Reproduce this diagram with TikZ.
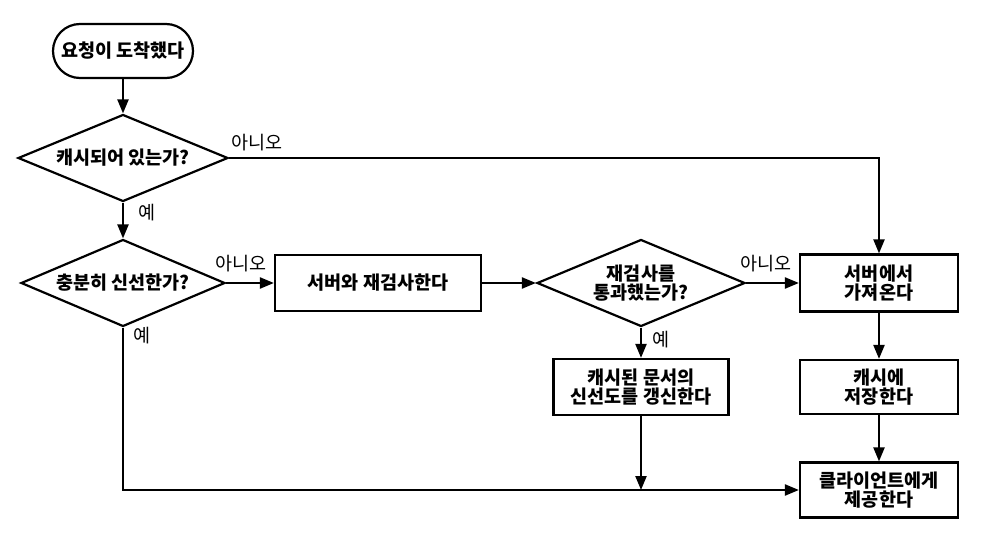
\documentclass[tikz,border=0pt]{standalone}
\usepackage{fontspec}
\setmainfont{Noto Sans CJK KR}
\usetikzlibrary{arrows.meta,shapes.geometric}

\begin{document}
\begin{tikzpicture}[x=1pt, y=-1pt, line width=2.2pt,
  every node/.style={font=\bfseries\fontsize{18.5}{19.5}\selectfont, align=center, inner sep=0pt},
  arr/.style={-{Triangle[length=14pt, width=11pt]}},
  boxnode/.style={draw, rectangle, minimum height=56pt},
  decision/.style={draw, diamond, shape aspect=2.4, minimum width=208pt, minimum height=87pt},
  lbl/.style={font=\fontsize{18.5}{19.5}\selectfont}]

\useasboundingbox (0,0) rectangle (996,548);

% Start
\node[draw, rounded corners=27pt, minimum width=140pt, minimum height=54pt] (start) at (123,51) {요청이 도착했다};

% Decisions
\node[decision, minimum width=210pt] (cached) at (123,158) {캐시되어 있는가?};
\node[decision, minimum width=204pt] (fresh) at (123,283) {충분히 신선한가?};
\node[decision] (passed) at (641,283) {재검사를\\통과했는가?};

% Process boxes
\node[boxnode, minimum width=206pt] (reval) at (378,283) {서버와 재검사한다};
\node[boxnode, minimum width=158pt, minimum height=57pt] (fetch) at (879,283) {서버에서\\가져온다};
\node[boxnode, minimum width=175pt] (update) at (641,387) {캐시된 문서의\\신선도를 갱신한다};
\node[boxnode, minimum width=158pt, minimum height=54pt] (store) at (879,387) {캐시에\\저장한다};
\node[boxnode, minimum width=158pt, minimum height=55pt] (serve) at (879,490) {클라이언트에게\\제공한다};

% Branch labels
\node[lbl] (no1) at (257,143) {아니오};
\node[lbl] (yes1) at (147,213) {예};
\node[lbl] (no2) at (241,264) {아니오};
\node[lbl] (yes2) at (142,336) {예};
\node[lbl] (no3) at (766,264) {아니오};
\node[lbl] (yes3) at (661,340) {예};

% Connectors
\draw[arr] (start) -- (cached);
\draw[arr] (cached.east) -| (fetch.north);
\draw[arr] (cached) -- (fresh);
\draw[arr] (fresh.east) -- (reval.west);
\draw[arr] (reval.east) -- (passed.west);
\draw[arr] (passed.east) -- (fetch.west);
\draw[arr] (passed) -- (update);
\draw[arr] (fetch) -- (store);
\draw[arr] (store) -- (serve);
\draw[arr] (fresh.south) |- (serve.west);
\coordinate (join) at (update.south |- serve.west);
\draw[arr] (update.south) -- (join);

\end{tikzpicture}
\end{document}
